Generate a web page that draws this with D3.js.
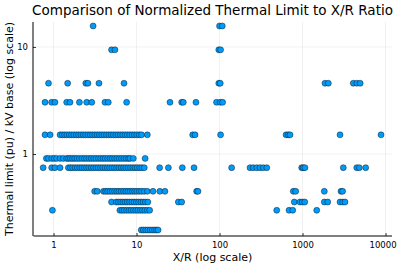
<!DOCTYPE html>
<html>
<head>
<meta charset="utf-8">
<script src="https://cdn.jsdelivr.net/npm/d3@7"></script>
<style>
  body { margin: 0; background: #fff; }
  svg { font-family: "DejaVu Sans", sans-serif; }
</style>
</head>
<body>
<svg width="399" height="266"></svg>
<script>
// y levels (thermal limit / kV base) and the X/R values seen at each level
const levels = [15.7, 9.4, 4.58, 3.04, 1.51, 0.91, 0.745, 0.448, 0.356, 0.298, 0.195];

const xr157 = [3.0, 100, 108];
const xr94 = [5.0, 5.5, 98, 103];
const xr458 = [0.87, 1.48, 2.45, 2.6, 3.53, 7.07, 98, 102, 1866, 2046, 4090, 4510, 4950];
const xr304 = [0.79, 0.95, 1.04, 1.44, 1.58, 2.05, 2.51, 2.89, 4.17, 4.57, 7.6, 25.3, 35, 36.6, 52, 92, 102, 109];
const xr151 = [0.79, 0.91, 1.2, 1.28, 1.36, 1.45, 1.55, 1.65, 1.76, 1.88, 2.0, 2.14, 2.28, 2.43, 2.6, 2.77,
  2.95, 3.15, 3.36, 3.58, 3.82, 4.07, 4.35, 4.64, 4.95, 5.28, 5.63, 6.0, 6.4, 6.83, 7.29, 7.77, 8.3, 8.85,
  9.44, 10.1, 10.8, 11.5, 13.5, 47.5, 50.7, 103, 634, 673, 707, 2830, 8830];
const xr091 = [0.82, 0.87, 0.95, 1.02, 1.09, 1.2, 1.31, 1.44, 1.52, 1.6, 1.7, 1.8, 1.92, 2.05, 2.2, 2.35, 2.5,
  2.68, 2.85, 3.05, 3.25, 3.48, 3.7, 3.95, 4.2, 4.5, 4.8, 5.1, 5.45, 5.8, 6.2, 6.6, 7.05, 7.5, 8.0, 8.35,
  9.15, 12.7];
const xr075 = [0.75, 0.95, 1.04, 1.2, 1.51, 1.6, 1.7, 1.82, 1.94, 2.07, 2.2, 2.35, 2.5, 2.67, 2.85, 3.04,
  3.24, 3.45, 3.68, 3.92, 4.18, 4.46, 4.75, 5.07, 5.4, 5.76, 6.14, 6.55, 6.98, 7.44, 7.93, 8.46, 9.02, 9.6,
  10.2, 10.9, 11.6, 12.4, 19.0, 24.2, 35.6, 49.3, 140, 233, 255, 281, 308, 337, 371, 977, 1020, 1070,
  3100, 4500, 4830, 5770];
const xr045 = [3.13, 3.37, 4.0, 4.25, 4.5, 4.8, 5.1, 5.45, 5.8, 6.15, 6.55, 7.0, 7.45, 7.9, 8.4, 8.95, 9.5,
  10.1, 10.8, 11.5, 12.4, 13.5, 15.8, 19.1, 22.0, 53, 55, 775, 828, 1830, 2910, 3040];
const xr036 = [5.0, 5.7, 6.05, 6.45, 6.85, 7.3, 7.75, 8.25, 8.8, 9.35, 9.95, 10.6, 11.3, 12.0, 12.8, 13.7,
  31.9, 35, 796, 933, 995, 1063, 1830, 2013, 2830, 3040, 3250];
const xr030 = [0.97, 6.3, 6.7, 7.1, 7.6, 8.1, 8.6, 9.2, 9.8, 10.4, 11.1, 11.8, 12.6, 13.5, 14.4,
  489, 688, 762, 1483];
const xr020 = [11.4, 12.1, 12.9, 13.7, 14.6, 15.5, 16.5, 17.4, 18.2];

const series = [xr157, xr94, xr458, xr304, xr151, xr091, xr075, xr045, xr036, xr030, xr020];

const xTicks = [1, 10, 100, 1000, 10000];
const yTicks = [1, 10];

const data = [];
series.forEach((xs, i) => xs.forEach(v => data.push({xr: v, th: levels[i]})));

const svg = d3.select("svg"),
      margin = {top: 22, right: 7, bottom: 30, left: 33},
      width = +svg.attr("width") - margin.left - margin.right,
      height = +svg.attr("height") - margin.top - margin.bottom;

const x = d3.scaleLog().domain([0.566, 11970]).range([0, width]);
const y = d3.scaleLog().domain([0.1714, 17.1]).range([height, 0]);

const g = svg.append("g").attr("transform", `translate(${margin.left},${margin.top})`);

// grid
g.append("g").selectAll("line").data(xTicks).enter().append("line")
  .attr("x1", d => x(d)).attr("x2", d => x(d))
  .attr("y1", 0).attr("y2", height)
  .attr("stroke", "#000").attr("stroke-opacity", 0.1).attr("stroke-width", 0.6);
g.append("g").selectAll("line").data(yTicks).enter().append("line")
  .attr("y1", d => y(d)).attr("y2", d => y(d))
  .attr("x1", 0).attr("x2", width)
  .attr("stroke", "#000").attr("stroke-opacity", 0.1).attr("stroke-width", 0.6);

// axes
const xAxis = g.append("g")
  .attr("transform", `translate(0,${height})`)
  .call(d3.axisBottom(x).tickValues(xTicks).tickFormat(d3.format("d")).tickSize(-3).tickPadding(6));
const yAxis = g.append("g")
  .call(d3.axisLeft(y).tickValues(yTicks).tickFormat(d3.format("d")).tickSize(-3).tickPadding(5));

[xAxis, yAxis].forEach(a => {
  a.select(".domain").attr("stroke", "#000").attr("stroke-width", 1);
  a.selectAll(".tick line").attr("stroke", "#000").attr("stroke-width", 0.8);
  a.selectAll(".tick text").attr("fill", "#000").style("font-size", "8.5px")
    .style("font-family", "DejaVu Sans, sans-serif");
});
xAxis.select(".domain").attr("d", `M0.5,0H${width}`);
yAxis.select(".domain").attr("d", `M0,${height}V0`);
// last label sits a little left so it stays inside the window
xAxis.selectAll(".tick text").filter(d => d === 10000).attr("dx", -3);

// points
g.append("g").selectAll("circle")
  .data(data)
  .enter().append("circle")
  .attr("cx", d => x(d.xr))
  .attr("cy", d => y(d.th))
  .attr("r", 3)
  .attr("fill", "#009afa")
  .attr("stroke", "#000")
  .attr("stroke-opacity", 0.8)
  .attr("stroke-width", 0.5);

// Title
svg.append("text")
  .attr("x", margin.left + width / 2)
  .attr("y", 15)
  .attr("text-anchor", "middle")
  .style("font-size", "13.5px")
  .text("Comparison of Normalized Thermal Limit to X/R Ratio");

// X-axis label
svg.append("text")
  .attr("x", margin.left + width / 2)
  .attr("y", 261)
  .attr("text-anchor", "middle")
  .style("font-size", "11px")
  .text("X/R (log scale)");

// Y-axis label
svg.append("text")
  .attr("transform", "rotate(-90)")
  .attr("x", -(margin.top + height / 2))
  .attr("y", 13)
  .attr("text-anchor", "middle")
  .style("font-size", "11px")
  .text("Thermal limit (pu) / kV base (log scale)");
</script>
</body>
</html>
